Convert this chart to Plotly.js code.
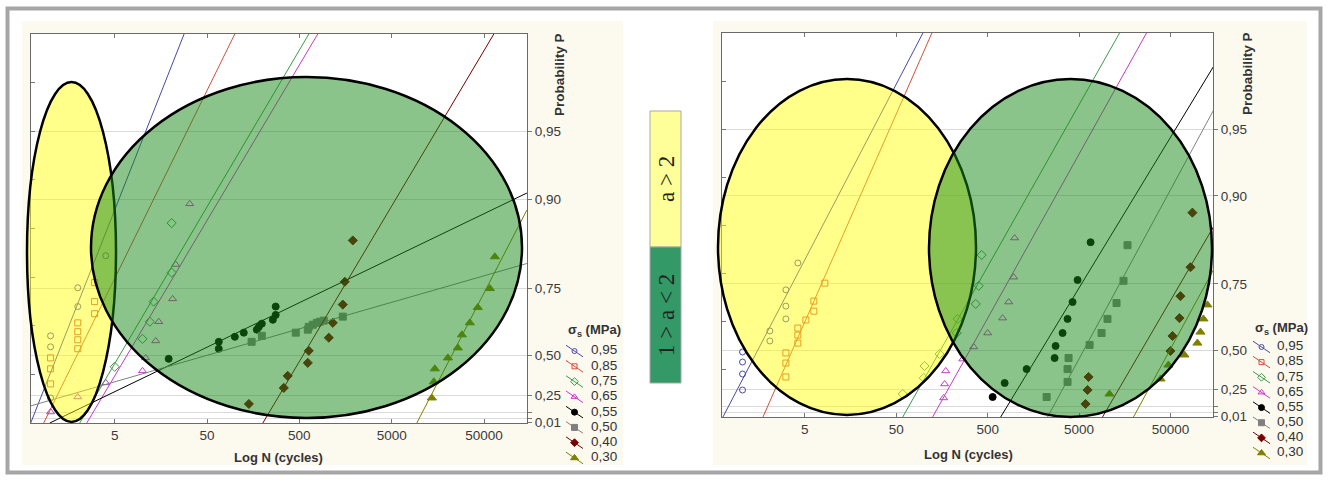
<!DOCTYPE html>
<html><head><meta charset="utf-8">
<script src="https://cdn.plot.ly/plotly-3.0.1.min.js"></script>
<style>html,body{margin:0;padding:0;background:#fff}#chart{width:1328px;height:483px}</style>
</head><body><div id="chart"></div>
<script>
// ---------- labels ----------
const sigmaLabels = ['0,95','0,85','0,75','0,65','0,55','0,50','0,40','0,30'];
const xTickVals = [5, 50, 500, 5000, 50000];
const xTickText = ['5', '50', '500', '5000', '50000'];
const pTickVals = [0.01, 0.25, 0.50, 0.75, 0.90, 0.95];
const pTickText = ['0,01', '0,25', '0,50', '0,75', '0,90', '0,95'];
const pMinorVals = [0.05, 0.10];
const legendTitle = 'σ<sub>s</sub> (MPa)';
const xTitle = 'Log N (cycles)';
const yTitle = 'Probability P';
const classHigh = 'a &gt; 2';
const classLow = '1 &gt; a &lt; 2';

// ---------- LEFT chart: points (N cycles, probability P) ----------
const L095_N = [1.01, 1.01, 1.01, 1.99, 1.99, 4.0];
const L095_P = [0.592, 0.543, 0.227, 0.751, 0.698, 0.821];
const L085_N = [1.01, 1.01, 1.01, 1.99, 1.99, 1.99, 1.99, 3.03, 3.03, 3.03];
const L085_P = [0.488, 0.427, 0.331, 0.643, 0.609, 0.575, 0.534, 0.764, 0.713, 0.675];
const L075_N = [5.0, 10.0, 12.0, 13.2, 20.7, 20.7];
const L075_P = [0.439, 0.579, 0.647, 0.713, 0.787, 0.872];
const L065_N = [1.01, 1.99, 4.0, 10.0, 10.8, 13.9, 15.0, 21.2, 22.9, 32.5];
const L065_P = [0.107, 0.235, 0.338, 0.415, 0.488, 0.570, 0.647, 0.721, 0.804, 0.895];
const L055_N = [19.2, 67, 67, 100, 125, 173, 182, 196, 258, 277, 277];
const L055_P = [0.483, 0.566, 0.534, 0.588, 0.605, 0.617, 0.628, 0.640, 0.654, 0.671, 0.698];
const L050_N = [152, 196, 457, 617, 632, 698, 772, 832, 919, 1476];
const L050_P = [0.566, 0.592, 0.605, 0.617, 0.628, 0.636, 0.643, 0.647, 0.651, 0.665];
const L040_N = [142, 339, 374, 617, 632, 1042, 1151, 1476, 1552, 1896];
const L040_P = [0.178, 0.303, 0.384, 0.461, 0.524, 0.584, 0.643, 0.704, 0.766, 0.847];
const L030_N = [13600, 14300, 14650, 20300, 26000, 28800, 35100, 42800, 57800, 65500];
const L030_P = [0.227, 0.345, 0.427, 0.488, 0.538, 0.596, 0.643, 0.695, 0.749, 0.819];

// LEFT chart: fitted lines (two end points each)
const L095_fitN = [0.615, 28.7];   const L095_fitP = [0, 0.982];
const L085_fitN = [0.851, 102];    const L085_fitP = [0, 0.982];
const L075_fitN = [2.09, 649];     const L075_fitP = [0, 0.982];
const L065_fitN = [2.49, 811];     const L065_fitP = [0, 0.982];
const L055_fitN = [0.99, 145500];  const L055_fitP = [0, 0.906];
const L050_fitN = [0.615, 145500]; const L050_fitP = [0.161, 0.806];
const L040_fitN = [201, 65500];    const L040_fitP = [0, 0.982];
const L030_fitN = [9350, 145500];  const L030_fitP = [0, 0.888];

// ---------- RIGHT chart: points ----------
const R095_N = [1.04, 1.04, 1.04, 1.04, 2.07, 2.07, 3.10, 3.10, 3.10, 4.19];
const R095_P = [0.492, 0.436, 0.361, 0.245, 0.592, 0.547, 0.640, 0.685, 0.734, 0.799];
const R085_N = [3.10, 3.10, 3.10, 4.19, 4.19, 4.19, 5.13, 6.27, 6.27, 8.27];
const R085_P = [0.487, 0.430, 0.341, 0.604, 0.574, 0.537, 0.636, 0.668, 0.701, 0.752];
const R075_N = [58.9, 100, 102, 149, 229, 235, 370, 399, 430];
const R075_P = [0.213, 0.334, 0.412, 0.481, 0.583, 0.640, 0.692, 0.745, 0.815];
const R065_N = [165, 169, 174, 267, 352, 500, 729, 849, 962, 986];
const R065_P = [0.180, 0.291, 0.381, 0.453, 0.518, 0.583, 0.643, 0.698, 0.767, 0.845];
const R055_N = [567, 767, 1334, 2700, 2768, 3302, 3741, 4246, 4817, 6683];
const R055_P = [0.188, 0.298, 0.393, 0.459, 0.523, 0.583, 0.640, 0.698, 0.760, 0.838];
const R050_N = [2208, 3741, 3741, 3837, 6516, 8810, 10230, 12850, 15320, 16950];
const R050_P = [0.188, 0.306, 0.393, 0.459, 0.528, 0.583, 0.640, 0.695, 0.758, 0.833];
const R040_N = [5888, 6194, 6353, 50000, 52600, 62700, 64300, 82800, 86900];
const R040_P = [0.127, 0.245, 0.341, 0.497, 0.570, 0.643, 0.716, 0.790, 0.881];
const R030_N = [10770, 38900, 47500, 71100, 98600, 106400, 114800, 126800];
const R030_P = [0.213, 0.327, 0.418, 0.476, 0.537, 0.587, 0.640, 0.689];

// RIGHT chart: fitted lines
const R095_fitN = [0.635, 100];     const R095_fitP = [0, 0.982];
const R085_fitN = [1.74, 125];      const R085_fitP = [0, 0.982];
const R075_fitN = [58.9, 14200];    const R075_fitP = [0, 0.982];
const R065_fitN = [125, 28000];     const R065_fitP = [0, 0.982];
const R055_fitN = [694, 147600];    const R055_fitP = [0, 0.974];
const R050_fitN = [2263, 147600];   const R050_fitP = [0, 0.959];
const R040_fitN = [9030, 147600];   const R040_fitP = [0, 0.862];
const R030_fitN = [19700, 147600];  const R030_fitP = [0, 0.784];

// ---------- styles ----------
const colors = ['#4848aa', '#d0503c', '#3f9a4a', '#c43cc4', '#000000', '#808080', '#780000', '#808000'];
const symbols = ['circle-open', 'square-open', 'diamond-open', 'triangle-up-open', 'circle', 'square', 'diamond', 'triangle-up'];
const sizes = [6, 6, 7, 7, 7, 7, 7, 8];

const leftPts = [[L095_N,L095_P],[L085_N,L085_P],[L075_N,L075_P],[L065_N,L065_P],[L055_N,L055_P],[L050_N,L050_P],[L040_N,L040_P],[L030_N,L030_P]];
const leftFit = [[L095_fitN,L095_fitP],[L085_fitN,L085_fitP],[L075_fitN,L075_fitP],[L065_fitN,L065_fitP],[L055_fitN,L055_fitP],[L050_fitN,L050_fitP],[L040_fitN,L040_fitP],[L030_fitN,L030_fitP]];
const rightPts = [[R095_N,R095_P],[R085_N,R085_P],[R075_N,R075_P],[R065_N,R065_P],[R055_N,R055_P],[R050_N,R050_P],[R040_N,R040_P],[R030_N,R030_P]];
const rightFit = [[R095_fitN,R095_fitP],[R085_fitN,R085_fitP],[R075_fitN,R075_fitP],[R065_fitN,R065_fitP],[R055_fitN,R055_fitP],[R050_fitN,R050_fitP],[R040_fitN,R040_fitP],[R030_fitN,R030_fitP]];

// exponential probability paper: axis value = -ln(1-P)
const probScale = p => -Math.log(1 - p);

const W = 1328, H = 483;
const fx = x => x / W;
const fy = y => 1 - y / H;
const FONT = 'Liberation Sans, Arial, sans-serif';

const traces = [];
function addChart(pts, fit, xa, yaLines, yaPts) {
  for (let i = 0; i < 8; i++) {
    traces.push({
      type: 'scatter', mode: 'lines', xaxis: xa, yaxis: yaLines, hoverinfo: 'skip',
      x: fit[i][0], y: fit[i][1].map(probScale),
      line: {color: colors[i], width: 1}
    });
  }
  for (let i = 0; i < 8; i++) {
    traces.push({
      type: 'scatter', mode: 'markers', xaxis: xa, yaxis: yaPts, name: sigmaLabels[i],
      x: pts[i][0], y: pts[i][1].map(probScale), cliponaxis: false,
      marker: {color: colors[i], symbol: symbols[i], size: sizes[i], line: {color: colors[i], width: 1}}
    });
  }
}
addChart(leftPts, leftFit, 'x', 'y2', 'y');
addChart(rightPts, rightFit, 'x2', 'y4', 'y3');

// legend glyphs (diagonal line with marker) on helper axes
function addLegend(xa, ya, textX) {
  for (let i = 0; i < 8; i++) {
    traces.push({
      type: 'scatter', mode: 'lines+markers', xaxis: xa, yaxis: ya, hoverinfo: 'skip',
      x: [0, 8.5, 17], y: [i - 0.38, i, i + 0.38],
      line: {color: colors[i], width: 1},
      marker: {color: colors[i], symbol: symbols[i], size: sizes[i] - 1, opacity: [0, 1, 0], line: {color: colors[i], width: 1}}
    });
  }
  traces.push({
    type: 'scatter', mode: 'text', xaxis: xa, yaxis: ya, hoverinfo: 'skip', cliponaxis: false,
    x: sigmaLabels.map(() => textX), y: sigmaLabels.map((_, i) => i), text: sigmaLabels,
    textposition: 'middle right', textfont: {family: FONT, size: 13.5, color: '#333'}
  });
}
addLegend('x3', 'y5', 25);
addLegend('x4', 'y6', 24);

const xRange = [Math.log10(0.62), Math.log10(146000)];
function xAxis(domain, anchor) {
  return {domain, anchor, type: 'log', range: xRange, tickmode: 'array', tickvals: xTickVals, ticktext: xTickText,
    ticks: 'inside', ticklen: 4, tickcolor: '#777', showline: true, linecolor: '#6a6a6a', linewidth: 1, mirror: 'ticks',
    showgrid: false, zeroline: false, tickfont: {family: FONT, size: 13.5, color: '#3a3a3a'}, fixedrange: true};
}
function yLeft(domain, anchor) {
  return {domain, anchor, range: [0, 4], tick0: 0, dtick: 0.5, ticks: 'inside', ticklen: 4, tickcolor: '#777',
    showticklabels: false, showline: true, linecolor: '#6a6a6a', linewidth: 1, mirror: true, showgrid: false, zeroline: false};
}
function yRight(over, anchor) {
  return {overlaying: over, anchor, side: 'right', range: [0, 4], tickmode: 'array', tickvals: pTickVals.map(probScale),
    ticktext: pTickText, ticks: 'outside', ticklen: 4, tickcolor: '#777', showline: true, linecolor: '#6a6a6a',
    showgrid: true, gridcolor: '#dadada', gridwidth: 1, zeroline: false,
    minor: {tickmode: 'array', tickvals: pMinorVals.map(probScale), ticks: 'outside', ticklen: 4, tickcolor: '#777',
      showgrid: true, gridcolor: '#dadada', gridwidth: 1},
    tickfont: {family: FONT, size: 13.5, color: '#3a3a3a'}};
}
function hidden(domain, anchor, range) {
  return {domain, anchor, range, visible: false, showgrid: false, zeroline: false, fixedrange: true};
}

const shapes = [
  // cream panels
  {type: 'rect', xref: 'paper', yref: 'paper', layer: 'below', x0: fx(22), x1: fx(623), y0: fy(465), y1: fy(21), fillcolor: '#fcf9ef', line: {width: 0}},
  {type: 'rect', xref: 'paper', yref: 'paper', layer: 'below', x0: fx(713), x1: fx(1307), y0: fy(465), y1: fy(21), fillcolor: '#fcf9ef', line: {width: 0}},
  {type: 'rect', xref: 'paper', yref: 'paper', layer: 'below', x0: fx(31), x1: fx(527), y0: fy(423), y1: fy(34), fillcolor: '#ffffff', line: {width: 0}},
  {type: 'rect', xref: 'paper', yref: 'paper', layer: 'below', x0: fx(722), x1: fx(1213), y0: fy(417), y1: fy(33), fillcolor: '#ffffff', line: {width: 0}},
  // outer frame
  {type: 'rect', xref: 'paper', yref: 'paper', layer: 'below', x0: fx(7.5), x1: fx(1320.5), y0: fy(472.5), y1: fy(8.5), line: {color: '#a6a6a6', width: 4}},
  // class key
  {type: 'rect', xref: 'paper', yref: 'paper', x0: fx(650), x1: fx(681), y0: fy(247), y1: fy(111), fillcolor: '#ffff99', line: {color: '#a8a8a8', width: 1}},
  {type: 'rect', xref: 'paper', yref: 'paper', x0: fx(650), x1: fx(681), y0: fy(383), y1: fy(247), fillcolor: '#339966', line: {color: '#a8a8a8', width: 1}},
  // ellipses
  {type: 'circle', xref: 'paper', yref: 'paper', layer: 'above', x0: fx(27), x1: fx(116), y0: fy(422), y1: fy(82), fillcolor: 'rgba(255,255,0,0.46)', line: {color: '#000', width: 2.5}},
  {type: 'circle', xref: 'paper', yref: 'paper', layer: 'above', x0: fx(91), x1: fx(522), y0: fy(418), y1: fy(77), fillcolor: 'rgba(22,138,22,0.5)', line: {color: '#000', width: 2.5}},
  {type: 'circle', xref: 'paper', yref: 'paper', layer: 'above', x0: fx(718), x1: fx(976), y0: fy(415), y1: fy(79), fillcolor: 'rgba(255,255,0,0.46)', line: {color: '#000', width: 2.5}},
  {type: 'circle', xref: 'paper', yref: 'paper', layer: 'above', x0: fx(929), x1: fx(1212), y0: fy(417), y1: fy(79), fillcolor: 'rgba(22,138,22,0.5)', line: {color: '#000', width: 2.5}}
];

const annFont = {family: FONT, size: 13, color: '#333'};
function ann(x, y, text, font, angle) {
  return {xref: 'paper', yref: 'paper', x: fx(x), y: fy(y), xanchor: 'center', yanchor: 'middle',
    text, font, textangle: angle || 0, showarrow: false};
}
const serif = {family: 'Liberation Serif, Times New Roman, serif', size: 23, color: '#222'};
const annotations = [
  ann(278, 457, '<b>' + xTitle + '</b>', annFont),
  ann(968, 454, '<b>' + xTitle + '</b>', annFont),
  ann(560, 75, '<b>' + yTitle + '</b>', {family: FONT, size: 13.5, color: '#333'}, -90),
  ann(1247, 74, '<b>' + yTitle + '</b>', {family: FONT, size: 13.5, color: '#333'}, -90),
  ann(594, 330, '<b>' + legendTitle + '</b>', annFont),
  ann(1281, 328, '<b>' + legendTitle + '</b>', annFont),
  ann(666, 179, classHigh, serif, -90),
  ann(666, 315, classLow, serif, -90)
];

const layout = {
  width: W, height: H, margin: {l: 0, r: 0, t: 0, b: 0}, showlegend: false,
  paper_bgcolor: '#ffffff', plot_bgcolor: 'rgba(0,0,0,0)',
  font: {family: FONT},
  xaxis: xAxis([fx(31), fx(527)], 'y'),
  yaxis: yLeft([fy(423), fy(34)], 'x'),
  yaxis2: yRight('y', 'x'),
  xaxis2: xAxis([fx(722), fx(1213)], 'y3'),
  yaxis3: yLeft([fy(417), fy(33)], 'x2'),
  yaxis4: yRight('y3', 'x2'),
  xaxis3: hidden([fx(566), fx(630)], 'y5', [0, 64]),
  yaxis5: hidden([fy(465.6), fy(343.4)], 'x3', [7.5, -0.5]),
  xaxis4: hidden([fx(1253), fx(1317)], 'y6', [0, 64]),
  yaxis6: hidden([fy(460.6), fy(339.4)], 'x4', [7.5, -0.5]),
  shapes, annotations
};

Plotly.newPlot('chart', traces, layout, {staticPlot: true, displayModeBar: false});
</script></body></html>
